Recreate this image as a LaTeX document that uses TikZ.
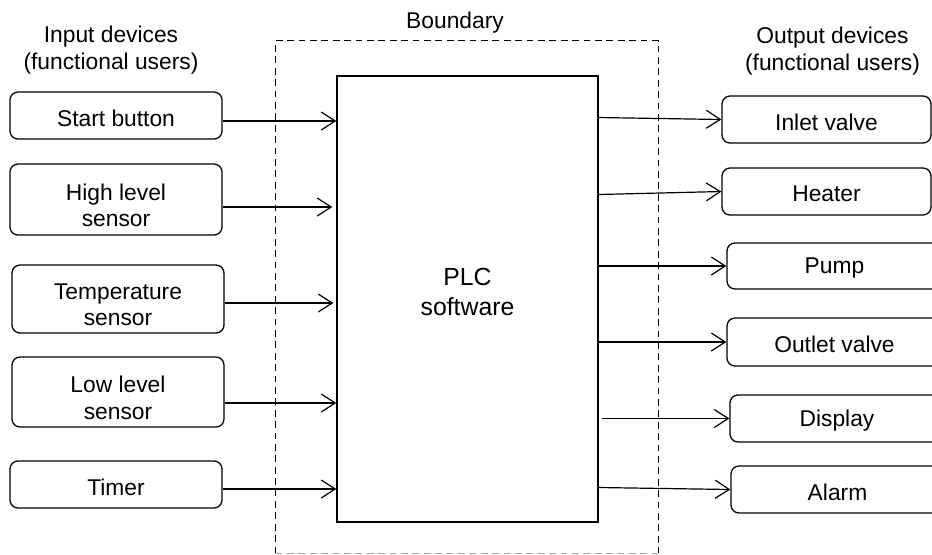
\documentclass[tikz,border=0pt]{standalone}
\usepackage{fontspec}
\setmainfont{Liberation Sans}
\usetikzlibrary{arrows.meta}
\begin{document}
\begin{tikzpicture}[x=0.5pt,y=-0.5pt,
  txt/.style={font=\fontsize{11.4}{13.25}\selectfont, align=center},
  dev/.style={draw, rounded corners=4pt, line width=0.65pt, inner sep=0pt},
  one/.style={txt, inner sep=0pt, yshift=-1.25pt},
  two/.style={txt, inner sep=0pt, yshift=-3pt},
  flow/.style={-{Straight Barb[length=7pt,width=9pt]}, line width=0.6pt},
  bound/.style={line width=0.6pt, dash pattern=on 3.4pt off 2.3pt}]
\clip (0,0) rectangle (932,554);

% system boundary and the PLC block
\node[minimum width=191pt, minimum height=256pt, inner sep=0pt] (bnd) at (467,297) {};
\draw[bound] (bnd.south west) -- (bnd.north west) -- (bnd.north east) -- (bnd.south east);
\draw[bound, gray!70] (bnd.south west) -- (bnd.south east);
\node[txt, anchor=base] (bndlbl) at (455,28) {Boundary};

\node[draw, line width=0.7pt, minimum width=130.5pt, minimum height=223pt, inner sep=0pt] (plc) at (467.5,299) {};
\node[font=\fontsize{12.4}{15}\selectfont, align=center] (plctxt) at (467.5,292) {PLC\\software};

% column headings
\node[txt] (inhead) at (111,50) {Input devices\\(functional users)};
\node[txt] (outhead) at (832.5,51) {Output devices\\(functional users)};

% input devices
\node[dev, minimum width=106pt, minimum height=23.5pt, label={[one]center:Start button}] (sb) at (116,115.5) {};
\node[dev, minimum width=106pt, minimum height=35.5pt, label={[two]center:{High level\\sensor}}] (hl) at (116,199.5) {};
\node[dev, minimum width=106pt, minimum height=34pt, label={[two]center:{Temperature\\sensor}}] (ts) at (118,299) {};
\node[dev, minimum width=106pt, minimum height=35pt, label={[two]center:{Low level\\sensor}}] (ll) at (118,392) {};
\node[dev, minimum width=106pt, minimum height=23.5pt, label={[one]center:Timer}] (tm) at (116,484.5) {};

% output devices (the lower four run past the right margin)
\node[dev, minimum width=104.5pt, minimum height=23.5pt, label={[one]center:Inlet valve}] (iv) at (826.5,119.5) {};
\node[dev, minimum width=104.5pt, minimum height=23.5pt, label={[one]center:Heater}] (ht) at (826.5,191.5) {};
\node[dev, minimum width=107.5pt, minimum height=23pt, label={[one]center:Pump}] (pm) at (834.5,266) {};
\node[dev, minimum width=107.5pt, minimum height=24pt, label={[one]center:Outlet valve}] (ov) at (834.5,342) {};
\node[dev, minimum width=107pt, minimum height=23.5pt, label={[one]center:Display}] (dp) at (837,418.5) {};
\node[dev, minimum width=106.5pt, minimum height=23.5pt, label={[one]center:Alarm}] (al) at (837.5,489.5) {};

% inputs into the PLC
\coordinate (sbo) at ([yshift=-2.75pt]sb.east);
\coordinate (hlo) at ([yshift=-3.75pt]hl.east);
\coordinate (tso) at ([yshift=-2pt]ts.east);
\coordinate (llo) at ([yshift=-5.5pt]ll.east);
\coordinate (tmo) at ([yshift=-2.25pt]tm.east);
\draw[flow] (sbo) -- (sbo -| plc.west);
\draw[flow, shorten >=2pt] (hlo) -- (hlo -| plc.west);
\draw[flow, shorten >=1.5pt] (tso) -- (tso -| plc.west);
\draw[flow] (llo) -- (llo -| plc.west);
\draw[flow] (tmo) -- (tmo -| plc.west);

% outputs from the PLC
\draw[flow] ([yshift=1pt]iv.west -| plc.east) -- (iv.west);
\draw[flow] ([yshift=-1.5pt]ht.west -| plc.east) -- (ht.west);
\draw[flow] (pm.west -| plc.east) -- (pm.west);
\draw[flow] (ov.west -| plc.east) -- (ov.west);
\draw[flow] ([xshift=1.5pt]dp.west -| plc.east) -- (dp.west);
\draw[flow] ([yshift=1pt]al.west -| plc.east) -- (al.west);
\end{tikzpicture}
\end{document}
